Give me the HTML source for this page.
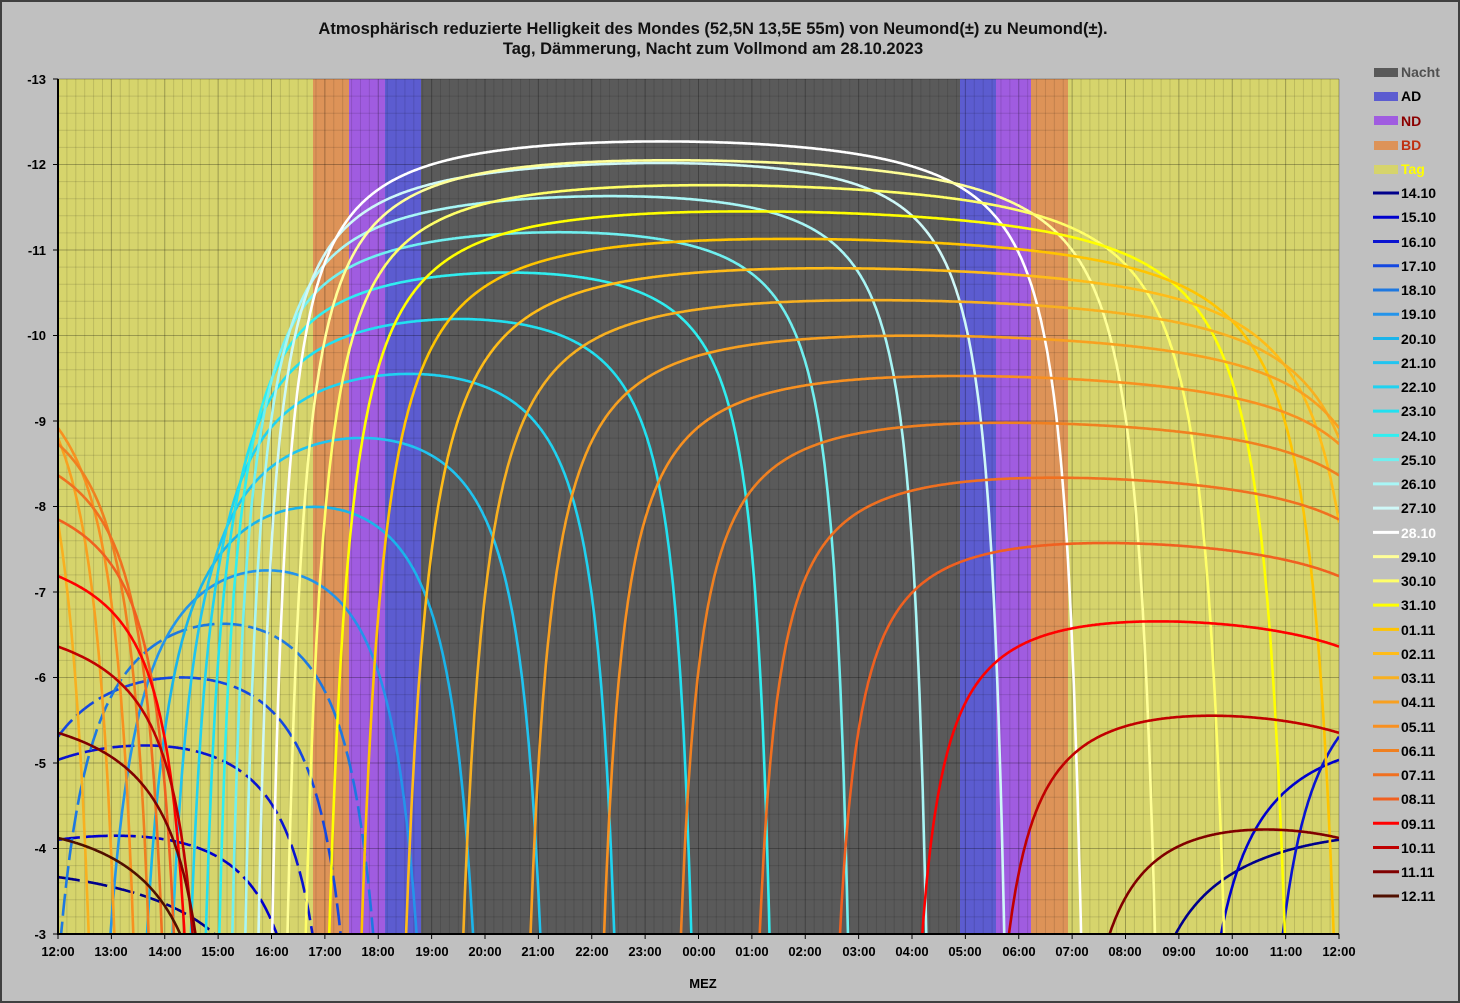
<!DOCTYPE html>
<html><head><meta charset="utf-8"><style>
html,body{margin:0;padding:0;width:1460px;height:1003px;overflow:hidden;background:#c0c0c0;}
svg{display:block;position:absolute;left:0;top:0;font-family:"Liberation Sans",Arial,sans-serif;}
</style></head><body>
<svg id="s" width="1460" height="1003" xmlns="http://www.w3.org/2000/svg">
<rect x="0" y="0" width="1460" height="1003" fill="#c0c0c0"/>
<rect x="1" y="1" width="1458" height="1001" fill="none" stroke="#404040" stroke-width="2"/>
<defs><clipPath id="pc"><rect x="58" y="79" width="1281" height="855"/></clipPath></defs>
<g id="bands"></g>
<g id="grid"></g>
<g id="curves" clip-path="url(#pc)"></g>
<g id="axes"></g>
<text x="713" y="34" font-size="16.5" font-weight="bold" text-anchor="middle" fill="#111">Atmosphärisch reduzierte Helligkeit des Mondes (52,5N 13,5E  55m) von Neumond(±) zu Neumond(±).</text>
<text x="713" y="54" font-size="16.5" font-weight="bold" text-anchor="middle" fill="#111">Tag, Dämmerung, Nacht zum Vollmond am 28.10.2023</text>
<g font-size="13" font-weight="bold" text-anchor="end" fill="#000">
<text x="46" y="84">-13</text><text x="46" y="169">-12</text><text x="46" y="255">-11</text><text x="46" y="340">-10</text><text x="46" y="426">-9</text><text x="46" y="511">-8</text><text x="46" y="597">-7</text><text x="46" y="682">-6</text><text x="46" y="768">-5</text><text x="46" y="853">-4</text><text x="46" y="939">-3</text>
</g>
<g font-size="13" font-weight="bold" text-anchor="middle" fill="#000">
<text x="58" y="956">12:00</text><text x="111" y="956">13:00</text><text x="165" y="956">14:00</text><text x="218" y="956">15:00</text><text x="272" y="956">16:00</text><text x="325" y="956">17:00</text><text x="378" y="956">18:00</text><text x="432" y="956">19:00</text><text x="485" y="956">20:00</text><text x="538" y="956">21:00</text><text x="592" y="956">22:00</text><text x="645" y="956">23:00</text><text x="699" y="956">00:00</text><text x="752" y="956">01:00</text><text x="805" y="956">02:00</text><text x="859" y="956">03:00</text><text x="912" y="956">04:00</text><text x="965" y="956">05:00</text><text x="1019" y="956">06:00</text><text x="1072" y="956">07:00</text><text x="1125" y="956">08:00</text><text x="1179" y="956">09:00</text><text x="1232" y="956">10:00</text><text x="1286" y="956">11:00</text><text x="1339" y="956">12:00</text>
<text x="703" y="988">MEZ</text>
</g>
<g id="legend" font-size="14" font-weight="bold">
<text x="1401" y="77" fill="#505050">Nacht</text>
<text x="1401" y="101" fill="#000">AD</text>
<text x="1401" y="126" fill="#8b0000">ND</text>
<text x="1401" y="150" fill="#c03010">BD</text>
<text x="1401" y="174" fill="#ffff00">Tag</text>
<text x="1401" y="198">14.10</text><text x="1401" y="222">15.10</text><text x="1401" y="247">16.10</text><text x="1401" y="271">17.10</text><text x="1401" y="295">18.10</text><text x="1401" y="319">19.10</text><text x="1401" y="344">20.10</text><text x="1401" y="368">21.10</text><text x="1401" y="392">22.10</text><text x="1401" y="416">23.10</text><text x="1401" y="441">24.10</text><text x="1401" y="465">25.10</text><text x="1401" y="489">26.10</text><text x="1401" y="513">27.10</text><text x="1401" y="538" fill="#fff">28.10</text><text x="1401" y="562">29.10</text><text x="1401" y="586">30.10</text><text x="1401" y="610">31.10</text><text x="1401" y="635">01.11</text><text x="1401" y="659">02.11</text><text x="1401" y="683">03.11</text><text x="1401" y="707">04.11</text><text x="1401" y="732">05.11</text><text x="1401" y="756">06.11</text><text x="1401" y="780">07.11</text><text x="1401" y="804">08.11</text><text x="1401" y="829">09.11</text><text x="1401" y="853">10.11</text><text x="1401" y="877">11.11</text><text x="1401" y="901">12.11</text>
</g>
<g id="lsw"></g>
</svg>
<script>
var NS="http://www.w3.org/2000/svg";
function el(p,t,a){var e=document.createElementNS(NS,t);for(var k in a)e.setAttribute(k,a[k]);document.getElementById(p).appendChild(e);return e;}
var X0=58,X1=1339,Y0=79,Y1=934,PX=(X1-X0)/24,PY=(Y1-Y0)/10;
var bands=[[58,313,"#d6d46c"],[313,349,"#dd9358"],[349,385,"#a05ce0"],[385,421,"#5c5cd0"],[421,960,"#5a5a5a"],[960,996,"#5c5cd0"],[996,1031,"#a05ce0"],[1031,1068,"#dd9358"],[1068,1339,"#d6d46c"]];
bands.forEach(function(b){el("bands","rect",{x:b[0],y:Y0,width:b[1]-b[0],height:Y1-Y0,fill:b[2]});});
for(var i=0;i<=144;i++){var x=X0+i*PX/6;el("grid","line",{x1:x,x2:x,y1:Y0,y2:Y1,stroke:i%6?"rgba(0,0,0,0.12)":"rgba(0,0,0,0.28)","stroke-width":1});}
for(var i=0;i<=50;i++){var y=Y0+i*PY/5;el("grid","line",{x1:X0,x2:X1,y1:y,y2:y,stroke:i%5?"rgba(0,0,0,0.12)":"rgba(0,0,0,0.28)","stroke-width":1});}
el("axes","line",{x1:X0,x2:X0,y1:Y0,y2:Y1+1,stroke:"#000","stroke-width":2});
el("axes","line",{x1:X0-1,x2:X1,y1:Y1,y2:Y1,stroke:"#000","stroke-width":2});
for(var i=0;i<=24;i++){var x=X0+i*PX;el("axes","line",{x1:x,x2:x,y1:Y1,y2:Y1+5,stroke:"#000","stroke-width":1});}
for(var i=0;i<=10;i++){var y=Y0+i*PY;el("axes","line",{x1:X0-5,x2:X0,y1:y,y2:y,stroke:"#000","stroke-width":1});}
var cols=["#00008b","#0000cd","#0a14d0","#1448e0","#1e78e0","#2494ea","#1ab4ea","#20c4f0","#20d2f0","#22e0f0","#30eef0","#70f0f0","#a8f6f6","#cff8f8","#ffffff","#ffff98","#ffff68","#ffff00","#ffc400","#ffbc18","#f8b020","#f8a020","#f89020","#f08020","#f07020","#f06020","#ff0000","#c00000","#800000","#501000"];
var sw=[["#595959",72],["#5c5cd0",96],["#a05ce0",120],["#dd9358",145],["#d6d46c",169]];
sw.forEach(function(s){el("lsw","rect",{x:1374,y:s[1]-4,width:24,height:9,fill:s[0]});});
cols.forEach(function(c,i){var y=193+i*24.24;el("lsw","line",{x1:1373,x2:1399,y1:y,y2:y,stroke:c,"stroke-width":3});});
var R=Math.PI/180,lat=52.5*R;
function phaseE(dd){
 if(dd<28.85) return 180*(dd-14.75)/14.1;
 return 180+180*(dd-28.85)/15.54;
}
function mag(d,t){
 var dd=d+0.5+t/24-0.04;
 var dec=28*Math.sin(2*Math.PI*(dd-26.5)/27.32)*R;
 var E=360*(dd-14.83)/29.53;
 var clock=12+t;
 var H=(15*(clock-11.95)-E)*R;
 var sh=Math.sin(lat)*Math.sin(dec)+Math.cos(lat)*Math.cos(dec)*Math.cos(H);
 var h=Math.asin(sh)/R;
 var Ep=phaseE(dd);
 var a0=180-((Ep%360)+360)%360;
 var a=Math.sqrt(a0*a0+16);
 var m0=-12.73+0.026*a+4e-9*Math.pow(a,4);
 var X;
 if(h>=0){X=1/(sh+0.50572*Math.pow(h+6.07995,-1.6364));}
 else{X=38+(-h)*40;}
 var m=m0+0.28*X;
 return Math.min(m,2);
}
for(var i=0;i<30;i++){
 var d=14+i;
 var pts=[],pts2=[];
 for(var k=0;k<=1200;k++){var t=k*0.02;var m=mag(d,t);
  var p=(X0+t*PX).toFixed(1)+","+(Y0+(m+13)*PY).toFixed(1);
  if(i<5&&t<9)pts2.push(p);else pts.push(p);}
 if(pts2.length)el("curves","polyline",{points:pts2.join(" "),fill:"none",stroke:cols[i],"stroke-width":2.6,"stroke-dasharray":"22 6"});
 el("curves","polyline",{points:pts.join(" "),fill:"none",stroke:cols[i],"stroke-width":2.6});
}
</script>
</body></html>
